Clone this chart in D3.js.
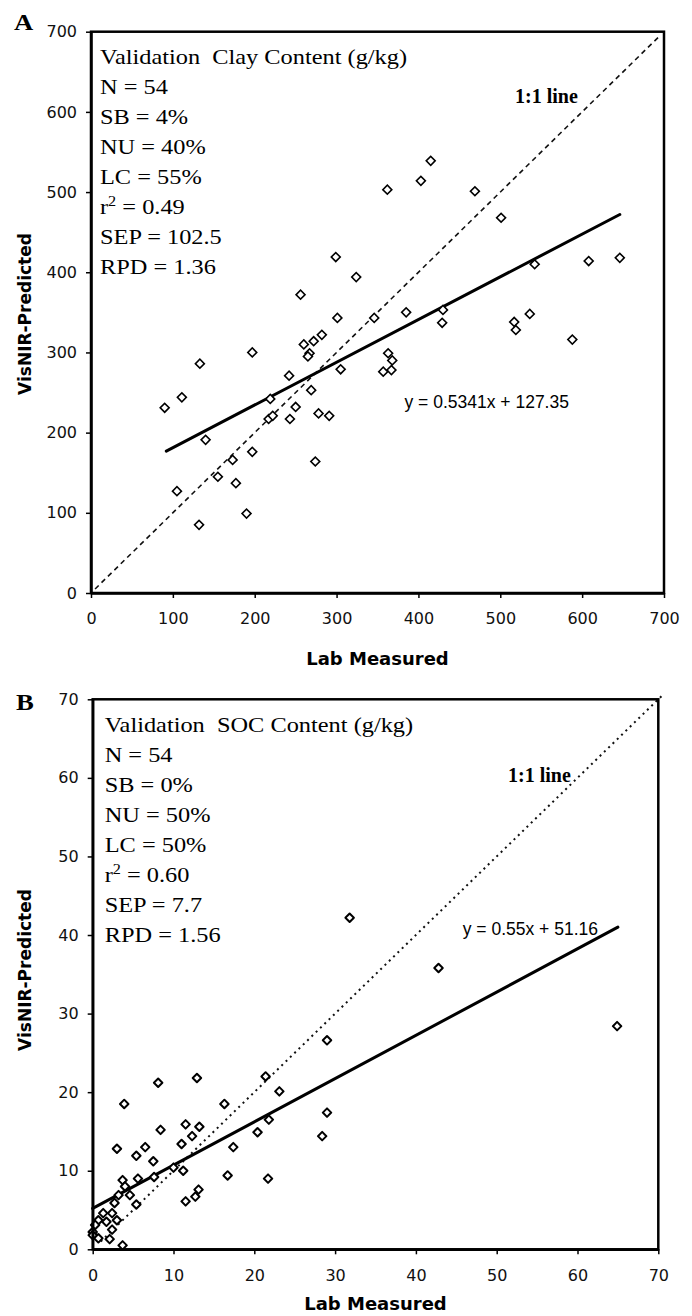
<!DOCTYPE html>
<html>
<head>
<meta charset="utf-8">
<script src="https://cdn.jsdelivr.net/npm/d3@7"></script>
<style>
body { margin: 0; background: #fff; }
svg { display: block; }
</style>
</head>
<body>
<svg id="chart" width="692" height="1316"></svg>
<script>
// Panel A: clay content (g/kg)
const clayLab = [362,299,324,256,301,346,260,272,282,267,265,197,133,305,363,368,357,367,242,219,
  269,250,217,222,243,278,291,274,90,111,140,197,173,155,177,105,190,132,415,403,
  469,501,542,608,646,385,430,429,536,517,519,588];
const clayPred = [503,419,394,372,343,343,310,314,322,299,295,300,286,279,299,290,276,278,271,242,
  253,232,217,221,217,224,221,164,231,244,191,176,166,145,137,127,99,85,539,514,
  501,468,410,414,418,350,353,337,348,338,328,316];
const clayTicks = [0, 100, 200, 300, 400, 500, 600, 700];
const clayFitX = [92, 646];
const clayFitY = [177, 472];
const clayOneToOne = [5, 693];
const clayStats = ['N = 54', 'SB = 4%', 'NU = 40%', 'LC = 55%', 'r^2 = 0.49', 'SEP = 102.5', 'RPD = 1.36'];

// Panel B: SOC content (g/kg)
const socLab = [31.8,42.8,64.9,29.0,29.0,28.4,23.1,21.4,21.8,20.4,21.7,17.4,16.3,16.7,12.9,8.1,3.9,8.4,11.5,13.2,
  12.3,11.0,6.5,3.0,5.4,7.5,11.2,10.0,13.1,12.7,11.5,3.7,5.6,7.6,4.0,4.6,3.2,5.4,2.7,2.4,
  1.3,0.7,3.0,1.7,0.3,0.0,2.4,0.7,0.0,2.1,3.7];
const socPred = [42.2,35.8,28.4,26.6,17.4,14.4,20.1,22.0,16.5,14.9,9.0,13.0,18.5,9.4,21.8,21.2,18.5,15.2,15.9,15.6,
  14.4,13.4,13.0,12.8,11.9,11.2,10.0,10.4,7.6,6.7,6.1,8.8,9.0,9.2,8.0,6.9,6.9,5.7,5.9,4.6,
  4.6,3.7,3.7,3.5,3.1,2.2,2.5,1.4,1.8,1.3,0.5];
const socTicks = [0, 10, 20, 30, 40, 50, 60, 70];
const socFitX = [0, 65];
const socFitY = [5.2, 41];
const socOneToOne = [1, 70.5];
const socStats = ['N = 54', 'SB = 0%', 'NU = 50%', 'LC = 50%', 'r^2 = 0.60', 'SEP = 7.7', 'RPD = 1.56'];

const svg = d3.select('svg#chart');
const serif = '"Liberation Serif", "Times New Roman", serif';
const sans = '"DejaVu Sans", Verdana, sans-serif';
const arial = '"Liberation Sans", Arial, sans-serif';
const stretch = 1.16;

function drawPanel(p) {
  const x = d3.scaleLinear().domain([0, p.max]).range([p.left, p.right]);
  const y = d3.scaleLinear().domain([0, p.max]).range([p.bottom, p.top]);
  const g = svg.append('g');

  // 1:1 line
  g.append('path')
      .datum(p.one.map(v => [v, v]))
      .attr('d', d3.line().x(d => x(d[0])).y(d => y(d[1])))
      .attr('fill', 'none')
      .attr('stroke', '#111')
      .attr('stroke-width', p.oneWidth)
      .attr('stroke-dasharray', p.oneDash);

  // regression line
  g.append('path')
      .datum(d3.zip(p.fitX, p.fitY))
      .attr('d', d3.line().x(d => x(d[0])).y(d => y(d[1])))
      .attr('fill', 'none')
      .attr('stroke', '#000')
      .attr('stroke-width', 3)
      .attr('stroke-linecap', 'round');

  // points
  g.selectAll('path.pt')
    .data(d3.zip(p.lab, p.pred))
    .join('path')
      .attr('class', 'pt')
      .attr('d', d3.symbol(d3.symbolSquare, p.markSize))
      .attr('transform', d => `translate(${x(d[0])},${y(d[1])}) rotate(45)`)
      .attr('fill', '#fff')
      .attr('stroke', '#000')
      .attr('stroke-width', p.markStroke)
      .attr('stroke-linejoin', p.markJoin);

  // frame
  g.append('rect')
      .attr('x', x(0)).attr('y', y(p.max))
      .attr('width', x(p.max) - x(0)).attr('height', y(0) - y(p.max))
      .attr('fill', 'none').attr('stroke', '#000').attr('stroke-width', 2.5);

  const xAxis = g.append('g')
      .attr('transform', `translate(0,${y(0)})`)
      .call(d3.axisBottom(x).tickValues(p.ticks).tickSize(5).tickSizeOuter(0).tickPadding(15));
  const yAxis = g.append('g')
      .attr('transform', `translate(${x(0)},0)`)
      .call(d3.axisLeft(y).tickValues(p.ticks).tickSize(5).tickSizeOuter(0).tickPadding(9));
  [xAxis, yAxis].forEach(a => {
    a.select('.domain').attr('stroke-width', 2.5);
    a.selectAll('.tick line').attr('stroke-width', 1.5);
    a.selectAll('.tick text').attr('font-family', sans).attr('font-size', 16).attr('fill', '#111');
  });

  // axis titles
  g.append('text')
      .attr('x', (x(0) + x(p.max)) / 2)
      .attr('y', p.xTitleY)
      .attr('text-anchor', 'middle')
      .attr('font-family', sans).attr('font-weight', 'bold').attr('font-size', 18)
      .text('Lab Measured');
  g.append('text')
      .attr('transform', `translate(31,${p.yTitleY}) rotate(-90)`)
      .attr('text-anchor', 'middle')
      .attr('font-family', sans).attr('font-weight', 'bold').attr('font-size', 17)
      .text('VisNIR-Predicted');

  // panel letter
  g.append('text')
      .attr('transform', `translate(${p.letterX},${p.letterY}) scale(${stretch},1)`)
      .attr('font-family', serif).attr('font-weight', 'bold').attr('font-size', 23)
      .text(p.letter);

  // stats block
  const tb = g.append('g')
      .attr('transform', `translate(${x(0) + p.textDx},${y(p.max) + p.textDy}) scale(${stretch},1)`)
      .attr('font-family', serif).attr('font-size', 21);
  tb.append('text').attr('x', 0).attr('y', 0).attr('xml:space', 'preserve').text(p.title);
  p.stats.forEach((s, i) => {
    const t = tb.append('text').attr('x', 0).attr('y', (i + 1) * 30);
    if (s.startsWith('r^2')) {
      t.append('tspan').text('r');
      t.append('tspan').attr('font-size', 14).attr('dy', -8).text('2');
      t.append('tspan').attr('dy', 8).text(s.slice(3));
    } else {
      t.text(s);
    }
  });

  // annotations
  g.append('text')
      .attr('x', x(p.oneLabel[0])).attr('y', y(p.oneLabel[1]))
      .attr('font-family', serif).attr('font-weight', 'bold').attr('font-size', 20)
      .text('1:1 line');
  g.append('text')
      .attr('x', x(p.eqLabel[0])).attr('y', y(p.eqLabel[1]))
      .attr('font-family', arial).attr('font-size', 17.5)
      .text(p.equation);
}

drawPanel({
  lab: clayLab, pred: clayPred, ticks: clayTicks, max: 700,
  left: 91, right: 664, top: 31.7, bottom: 593,
  fitX: clayFitX, fitY: clayFitY, one: clayOneToOne,
  oneWidth: 1.6, oneDash: '5,4',
  markSize: 40, markStroke: 1.6, markJoin: 'miter',
  xTitleY: 665, yTitleY: 314,
  letter: 'A', letterX: 14, letterY: 30,
  textDx: 9, textDy: 32.3,
  title: 'Validation  Clay Content (g/kg)', stats: clayStats,
  oneLabel: [518, 611], eqLabel: [383, 231],
  equation: 'y = 0.5341x + 127.35'
});

drawPanel({
  lab: socLab, pred: socPred, ticks: socTicks, max: 70,
  left: 92.7, right: 658.3, top: 699.3, bottom: 1249.3,
  fitX: socFitX, fitY: socFitY, one: socOneToOne,
  oneWidth: 2, oneDash: '2,4',
  markSize: 36, markStroke: 2, markJoin: 'round',
  xTitleY: 1310, yTitleY: 970,
  letter: 'B', letterX: 16, letterY: 710,
  textDx: 12, textDy: 32.4,
  title: 'Validation  SOC Content (g/kg)', stats: socStats,
  oneLabel: [51.4, 59.5], eqLabel: [45.8, 40],
  equation: 'y = 0.55x + 51.16'
});
</script>
</body>
</html>
